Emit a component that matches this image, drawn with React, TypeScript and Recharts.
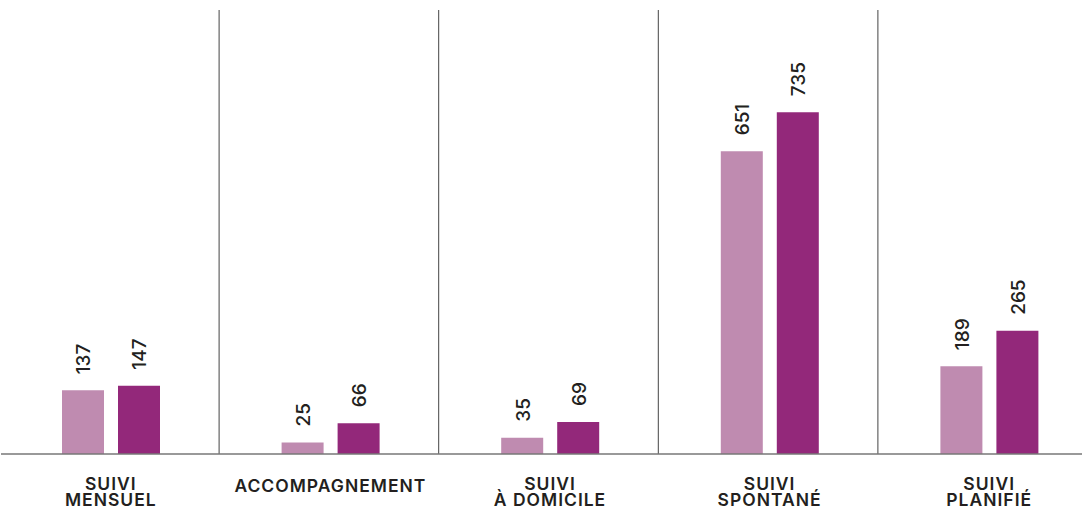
import React from "react";
import { BarChart, Bar, XAxis, YAxis, CartesianGrid, LabelList } from "recharts";

const categories = ["SUIVI\nMENSUEL", "ACCOMPAGNEMENT", "SUIVI\nÀ DOMICILE", "SUIVI\nSPONTANÉ", "SUIVI\nPLANIFIÉ"];
const seriesA = [137, 25, 35, 651, 189];
const seriesB = [147, 66, 69, 735, 265];

const data = categories.map((name, i) => ({ name, a: seriesA[i], b: seriesB[i] }));

const FONT = "Inter, 'DejaVu Sans', sans-serif";
const TEXT = "#231F20";

const CategoryTick = (props: any) => {
  const { x, y, payload } = props;
  const lines = String(payload.value).split("\n");
  const first = lines.length > 1 ? 36 : 38;
  return (
    <text x={x} y={y} textAnchor="middle" fill={TEXT} fontFamily={FONT} fontSize={17.5} fontWeight={600} letterSpacing={1}>
      {lines.map((l, i) => (
        <tspan key={i} x={x} y={y + first + i * 15.5}>
          {l}
        </tspan>
      ))}
    </text>
  );
};

const ValueLabel = (props: any) => {
  const { x, y, width, value } = props;
  const cx = Number(x) + Number(width) / 2 + 1;
  const cy = Number(y) - 16;
  return (
    <text
      x={cx}
      y={cy}
      transform={`rotate(-90 ${cx} ${cy})`}
      textAnchor="start"
      dominantBaseline="central"
      fill={TEXT}
      fontFamily={FONT}
      fontSize={19}
      fontWeight={500}
    >
      {value}
    </text>
  );
};

export default function App() {
  return (
    <div style={{ position: "absolute", left: 0, top: 0, width: 1082, height: 509, overflow: "hidden", background: "#fff" }}>
      <BarChart
        width={1099}
        height={509}
        data={data}
        margin={{ top: 10, right: 0, left: 1, bottom: 0 }}
        barSize={42}
        barGap={14}
      >
        <CartesianGrid
          horizontal={false}
          stroke="#444"
          strokeWidth={1}
          verticalCoordinatesGenerator={({ offset }: any) =>
            [1, 2, 3, 4].map((k) => offset.left - 1.5 + (k * offset.width) / categories.length)
          }
        />
        <YAxis hide domain={[0, 955]} />
        <XAxis
          dataKey="name"
          interval={0}
          height={55}
          tickLine={false}
          tickSize={0}
          tickMargin={0}
          axisLine={{ stroke: "#777", strokeWidth: 1.5 }}
          tick={<CategoryTick />}
        />
        <Bar dataKey="a" fill="#BF8BB0" isAnimationActive={false}>
          <LabelList dataKey="a" content={<ValueLabel />} />
        </Bar>
        <Bar dataKey="b" fill="#93287A" isAnimationActive={false}>
          <LabelList dataKey="b" content={<ValueLabel />} />
        </Bar>
      </BarChart>
    </div>
  );
}
